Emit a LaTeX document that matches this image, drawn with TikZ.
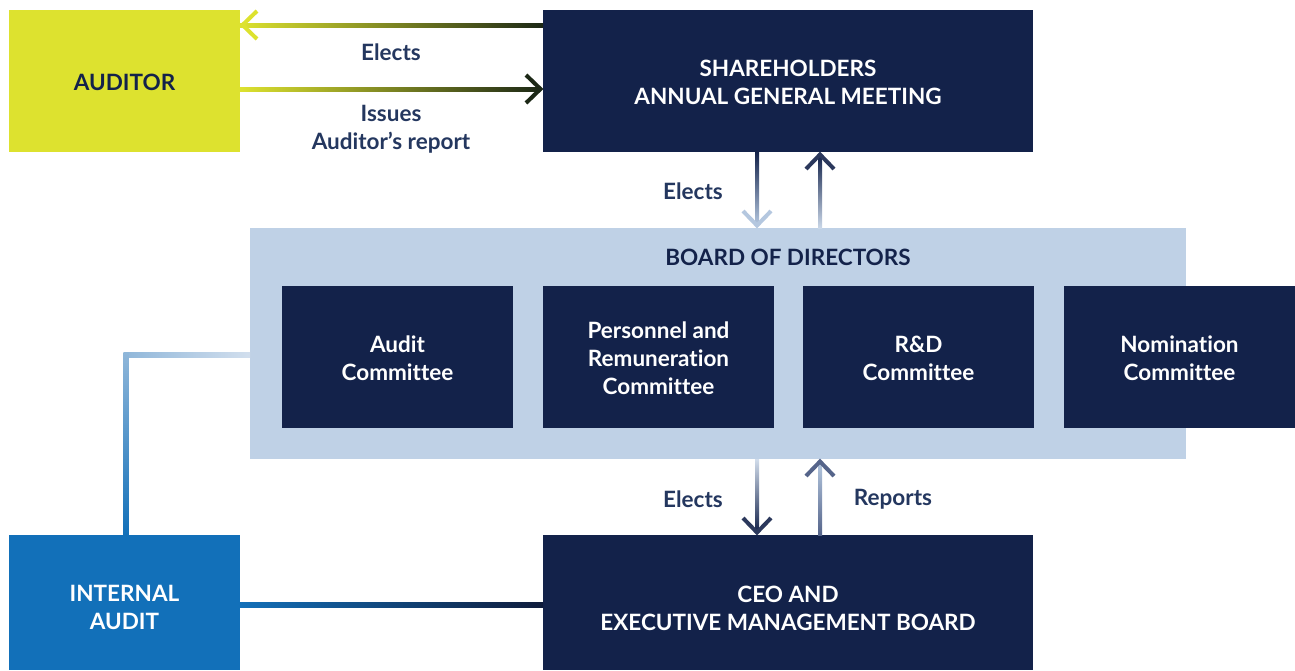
\documentclass[tikz,border=0pt]{standalone}
\usepackage{fontspec}
\setmainfont{Lato}[Ligatures=CommonOff]
\usetikzlibrary{calc}
\definecolor{navy}{HTML}{13224A}
\definecolor{yel}{HTML}{DDE22F}
\definecolor{boardc}{HTML}{BFD1E6}
\definecolor{iablue}{HTML}{1270B9}
\definecolor{lbl}{HTML}{24375F}
\definecolor{darkg}{HTML}{1C2816}
\definecolor{lightarr}{HTML}{B4C7DF}
\definecolor{midarr}{HTML}{55648A}
\begin{document}
\begin{tikzpicture}[x=1pt,y=-1pt,
  box/.style={draw=none, inner sep=0pt, outer sep=0pt, align=center, text=white,
    font=\fontsize{22.5}{28}\selectfont\bfseries},
  lab/.style={inner sep=0pt, align=center, text=lbl, font=\fontsize{22.5}{28}\selectfont\bfseries},
  chev/.style={line width=4pt, line join=miter, line cap=butt}]
\useasboundingbox (0,0) rectangle (1295,670);
% boxes
\node[box, fill=yel, text=navy, minimum width=231, minimum height=142] (aud) at (124.5,81) {};
\node[box, text=navy] (audt) at (124.5,82) {AUDITOR};
\node[box, fill=navy, minimum width=490, minimum height=142] (sh) at (788,81) {};
\node[box] (sht) at (788,82) {SHAREHOLDERS\\ANNUAL GENERAL MEETING};
\node[box, fill=boardc, minimum width=936, minimum height=231] (bd) at (718,343.5) {};
\node[box, text=navy] (bdt) at (788,257) {BOARD OF DIRECTORS};
\node[box, fill=navy, minimum width=231, minimum height=142] (c1) at (397.5,357) {};
\node[box] (c1t) at (397.5,358) {Audit\\Committee};
\node[box, fill=navy, minimum width=231, minimum height=142] (c2) at (658.5,357) {};
\node[box] (c2t) at (658.5,358) {Personnel and\\Remuneration\\Committee};
\node[box, fill=navy, minimum width=231, minimum height=142] (c3) at (918.5,357) {};
\node[box] (c3t) at (918.5,358) {R\&D\\Committee};
\node[box, fill=navy, minimum width=231, minimum height=142] (c4) at (1179.5,357) {};
\node[box] (c4t) at (1179.5,358) {Nomination\\Committee};
\node[box, fill=iablue, minimum width=231, minimum height=135] (ia) at (124.5,602.5) {};
\node[box] (iat) at (124.5,607.5) {INTERNAL\\AUDIT};
\node[box, fill=navy, minimum width=490, minimum height=135] (ceo) at (788,602.5) {};
\node[box] (ceot) at (788,608) {CEO AND\\EXECUTIVE MANAGEMENT BOARD};
% auditor arrows
\coordinate (a1) at (aud.east |- 0,25);
\coordinate (s1) at (sh.west |- 0,25);
\shade[left color=yel, right color=darkg] ($(a1)+(0,-2)$) rectangle ($(s1)+(0,2)$);
\draw[chev, yel] ($(a1)+(17,-14)$) -- ($(a1)+(2.5,0)$) -- ($(a1)+(17,14)$);
\coordinate (a2) at (aud.east |- 0,89);
\coordinate (s2) at (sh.west |- 0,89);
\shade[left color=yel, right color=darkg] ($(a2)+(0,-2)$) rectangle ($(s2)+(-3,2)$);
\draw[chev, darkg] ($(s2)+(-17,-14)$) -- ($(s2)+(-2.5,0)$) -- ($(s2)+(-17,14)$);
\node[lab] (l1) at (391,52) {Elects};
\node[lab] (l2) at (391,129) {Issues\\Auditor’s report};
% shareholders <-> board
\coordinate (t1) at (sh.south -| 757,0);
\coordinate (b1) at (bd.north -| 757,0);
\shade[top color=navy, bottom color=lightarr] ($(t1)+(-2,0)$) rectangle ($(b1)+(2,-3)$);
\draw[chev, lightarr] ($(b1)+(-14,-17)$) -- ($(b1)+(0,-2.5)$) -- ($(b1)+(14,-17)$);
\coordinate (t2) at (sh.south -| 820,0);
\coordinate (b2) at (bd.north -| 820,0);
\shade[top color=navy, bottom color=lightarr!70!white] ($(t2)+(-2,3)$) rectangle ($(b2)+(2,0)$);
\draw[chev, navy!90!white] ($(t2)+(-14,17)$) -- ($(t2)+(0,2.5)$) -- ($(t2)+(14,17)$);
\node[lab] (l3) at (693,191) {Elects};
% board <-> CEO
\coordinate (t3) at (bd.south -| 757,0);
\coordinate (b3) at (ceo.north -| 757,0);
\shade[top color=lightarr!60!white, bottom color=navy] ($(t3)+(-2,0)$) rectangle ($(b3)+(2,-3)$);
\draw[chev, navy!90!white] ($(b3)+(-14,-17)$) -- ($(b3)+(0,-2.5)$) -- ($(b3)+(14,-17)$);
\coordinate (t4) at (bd.south -| 820,0);
\coordinate (b4) at (ceo.north -| 820,0);
\shade[top color=lightarr, bottom color=midarr] ($(t4)+(-2,3)$) rectangle ($(b4)+(2,0)$);
\draw[chev, midarr] ($(t4)+(-14,17)$) -- ($(t4)+(0,2.5)$) -- ($(t4)+(14,17)$);
\node[lab] (l4) at (693,499) {Elects};
\node[lab] (l5) at (893,499) {Reports};
% internal audit links
\coordinate (k1) at (bd.west |- 0,355);
\coordinate (k2) at (126,355);
\coordinate (k3) at (ia.north -| 126,0);
\shade[left color=lightarr!60!iablue!80!white, right color=boardc!70!white] ($(k2)+(-2.5,-2.5)$) rectangle ($(k1)+(0,2.5)$);
\shade[top color=lightarr!60!iablue!80!white, bottom color=iablue] ($(k2)+(-2.5,-2.5)$) rectangle ($(k3)+(2.5,0)$);
\coordinate (m1) at (ia.east |- 0,605);
\coordinate (m2) at (ceo.west |- 0,605);
\shade[left color=iablue, right color=navy!80!black] ($(m1)+(0,-2.5)$) rectangle ($(m2)+(0,2.5)$);
\end{tikzpicture}
\end{document}
